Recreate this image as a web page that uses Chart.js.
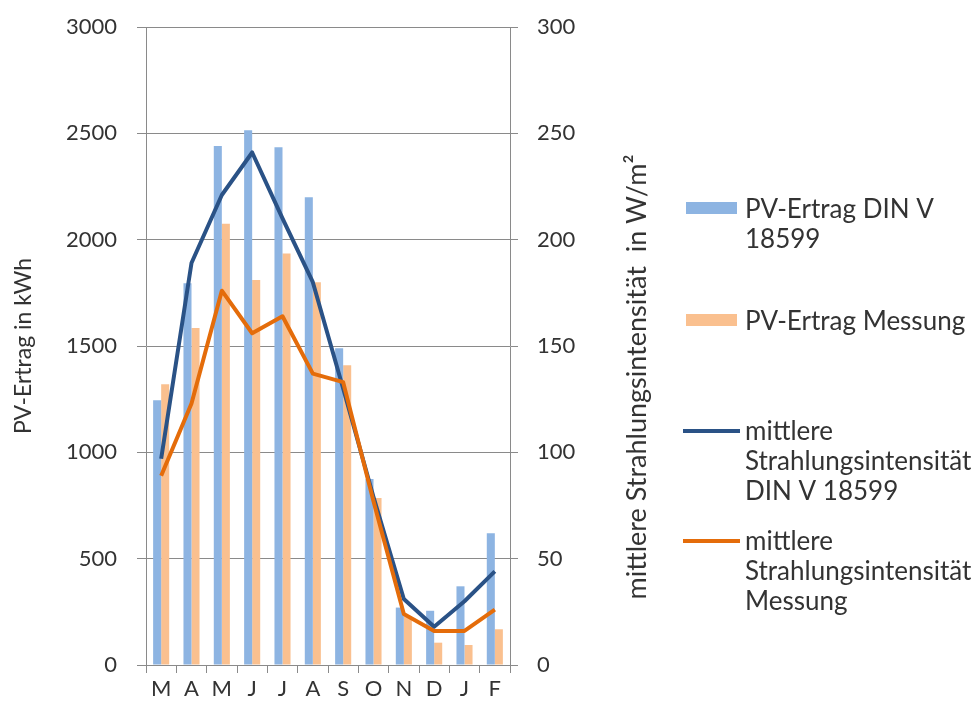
<!DOCTYPE html>
<html lang="de">
<head>
<meta charset="utf-8">
<title>PV-Ertrag und Strahlungsintensität</title>
<script src="https://cdn.jsdelivr.net/npm/chart.js@4.4.1/dist/chart.umd.min.js"></script>
<style>
  html, body { margin: 0; padding: 0; background: #ffffff; }
  canvas { display: block; }
</style>
</head>
<body>
<canvas id="chart" width="976" height="706"></canvas>
<script>
// Months from March to February
const months = ['M', 'A', 'M', 'J', 'J', 'A', 'S', 'O', 'N', 'D', 'J', 'F'];

// PV yield in kWh
const yieldDin = [1245, 1795, 2440, 2515, 2435, 2200, 1490, 875, 270, 255, 370, 620];
const yieldMeasured = [1320, 1585, 2075, 1810, 1935, 1800, 1410, 785, 230, 105, 94, 168];

// Mean irradiance in W/m²
const irradianceDin = [97, 189, 221, 241, 210, 180, 130, 79, 31, 18, 30, 44];
const irradianceMeasured = [89, 123, 176, 156, 164, 137, 133, 77, 24, 16, 16, 26];

// Axis ticks
const leftTicks = [0, 500, 1000, 1500, 2000, 2500, 3000];
const rightTicks = [0, 50, 100, 150, 200, 250, 300];

// Texts
const leftTitle = 'PV-Ertrag in kWh';
const rightTitle = 'mittlere Strahlungsintensität  in W/m²';
const seriesNames = [
  ['PV-Ertrag DIN V', '18599'],
  ['PV-Ertrag Messung'],
  ['mittlere', 'Strahlungsintensität', 'DIN V 18599'],
  ['mittlere', 'Strahlungsintensität', 'Messung']
];

const FONT = 'Lato, "Open Sans", sans-serif';
const TEXT = '#333333';
const GRID = '#8a8a8a';

// Right-hand title (reading bottom to top) and the legend
const sidePanel = {
  id: 'sidePanel',
  afterDraw(chart) {
    const ctx = chart.ctx;
    ctx.save();
    ctx.fillStyle = TEXT;

    ctx.save();
    ctx.font = '27px ' + FONT;
    ctx.translate(637, 377);
    ctx.rotate(-Math.PI / 2);
    ctx.textAlign = 'center';
    ctx.textBaseline = 'middle';
    ctx.fillText(rightTitle, 0, 0);
    ctx.restore();

    ctx.font = '26px ' + FONT;
    const firstBaselines = [218, 330, 440, 550];
    const pitch = 30;
    ctx.textAlign = 'left';
    ctx.textBaseline = 'alphabetic';
    chart.data.datasets.forEach((ds, i) => {
      const base = firstBaselines[i];
      if (ds.type === 'line') {
        ctx.strokeStyle = ds.borderColor;
        ctx.lineWidth = 4;
        ctx.beginPath();
        ctx.moveTo(683, base - 9);
        ctx.lineTo(740, base - 9);
        ctx.stroke();
      } else {
        ctx.fillStyle = ds.backgroundColor;
        ctx.fillRect(686, base - 16, 51, 12);
      }
      ctx.fillStyle = TEXT;
      seriesNames[i].forEach((line, k) => {
        ctx.fillText(line, 745, base + k * pitch);
      });
    });
    ctx.restore();
  }
};

const plainNumber = v => String(v);

// Value axes: fixed width, no extra room reserved above/below for tick labels
const fixAxis = width => scale => {
  scale.width = width;
  scale.paddingTop = 0;
  scale.paddingBottom = 0;
};

new Chart(document.getElementById('chart'), {
  data: {
    labels: months,
    datasets: [
      {
        type: 'bar',
        label: seriesNames[0].join(' '),
        data: yieldDin,
        backgroundColor: '#8db4e2',
        yAxisID: 'y',
        order: 3,
        categoryPercentage: 0.53,
        barPercentage: 1.0
      },
      {
        type: 'bar',
        label: seriesNames[1].join(' '),
        data: yieldMeasured,
        backgroundColor: '#fac08f',
        yAxisID: 'y',
        order: 4,
        categoryPercentage: 0.53,
        barPercentage: 1.0
      },
      {
        type: 'line',
        label: seriesNames[2].join(' '),
        data: irradianceDin,
        borderColor: '#2a5286',
        backgroundColor: '#2a5286',
        borderWidth: 4,
        pointRadius: 0,
        tension: 0,
        borderJoinStyle: 'round',
        yAxisID: 'y1',
        order: 2
      },
      {
        type: 'line',
        label: seriesNames[3].join(' '),
        data: irradianceMeasured,
        borderColor: '#e46c0a',
        backgroundColor: '#e46c0a',
        borderWidth: 4,
        pointRadius: 0,
        tension: 0,
        borderJoinStyle: 'round',
        yAxisID: 'y1',
        order: 1
      }
    ]
  },
  options: {
    responsive: false,
    animation: false,
    devicePixelRatio: 1,
    layout: { padding: { top: 27, right: 321, bottom: 0, left: 0 } },
    plugins: {
      legend: { display: false },
      tooltip: { enabled: false }
    },
    scales: {
      x: {
        type: 'category',
        offset: true,
        grid: {
          display: true,
          offset: true,
          drawOnChartArea: false,
          drawTicks: true,
          tickLength: 8,
          color: GRID
        },
        border: { display: true, color: GRID, width: 1 },
        ticks: {
          color: TEXT,
          font: { family: FONT, size: 22 },
          padding: 3,
          maxRotation: 0,
          autoSkip: false
        },
        afterFit(scale) { scale.height = 41; }
      },
      y: {
        type: 'linear',
        position: 'left',
        min: 0,
        max: 3000,
        afterBuildTicks(scale) { scale.ticks = leftTicks.map(v => ({ value: v })); },
        grid: {
          color: GRID,
          lineWidth: 1,
          drawTicks: true,
          tickLength: 9
        },
        border: { display: true, color: GRID, width: 1 },
        ticks: {
          color: TEXT,
          font: { family: FONT, size: 22 },
          padding: 20,
          callback: plainNumber
        },
        title: {
          display: true,
          text: leftTitle,
          color: TEXT,
          font: { family: FONT, size: 23 },
          padding: { top: 10, bottom: 0 }
        },
        afterFit: fixAxis(146)
      },
      y1: {
        type: 'linear',
        position: 'right',
        min: 0,
        max: 300,
        afterBuildTicks(scale) { scale.ticks = rightTicks.map(v => ({ value: v })); },
        grid: {
          color: GRID,
          drawOnChartArea: false,
          drawTicks: true,
          tickLength: 8
        },
        border: { display: true, color: GRID, width: 1 },
        ticks: {
          color: TEXT,
          font: { family: FONT, size: 22 },
          padding: 19,
          callback: plainNumber
        },
        afterFit: fixAxis(145)
      }
    }
  },
  plugins: [sidePanel]
});
</script>
</body>
</html>
